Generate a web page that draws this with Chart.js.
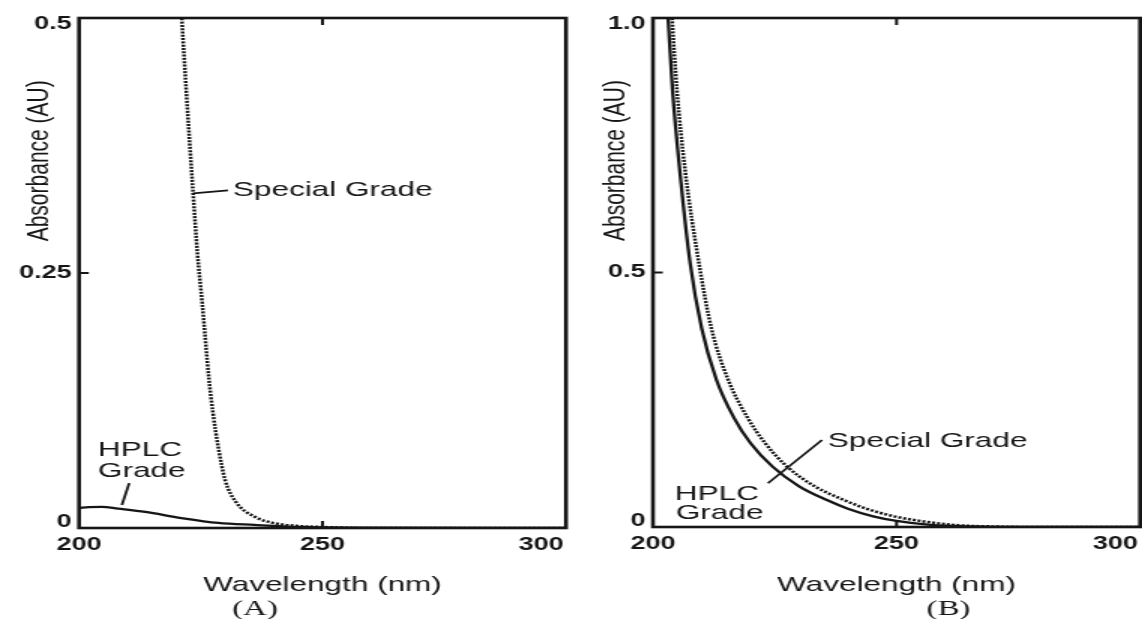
<!DOCTYPE html>
<html>
<head>
<meta charset="utf-8">
<title>Solvent UV absorbance</title>
<script src="https://cdn.jsdelivr.net/npm/chart.js@4.4.1/dist/chart.umd.min.js"></script>
<style>
  html, body { margin: 0; padding: 0; background: #fff; }
  body { width: 1142px; height: 619px; position: relative; overflow: hidden; }
  canvas { position: absolute; top: 0; }
</style>
</head>
<body>
<!-- drawn narrow and stretched 1.5x wide, like the printed figure -->
<canvas id="chartA" width="380" height="619" style="left:0px;width:570px;height:619px"></canvas>
<canvas id="chartB" width="380" height="619" style="left:572px;width:570px;height:619px"></canvas>
<script>
// Axis ticks
const WAVELENGTH_TICKS = [200, 250, 300];
const ABS_TICKS_A = [0, 0.25, 0.5];
const ABS_LABELS_A = ['0', '0.25', '0.5'];
const ABS_TICKS_B = [0, 0.5, 1.0];
const ABS_LABELS_B = ['0', '0.5', '1.0'];

// Panel A: absorbance (AU) against wavelength (nm)
const nmSpecialA = [220.0, 221.1, 222.0, 223.4, 224.3, 225.3, 226.7, 227.5, 228.6, 230.0, 232.3, 236.1, 239.8, 245, 250, 260, 300];
const auSpecialA = [0.60, 0.50, 0.43, 0.33, 0.27, 0.22, 0.145, 0.113, 0.079, 0.047, 0.025, 0.011, 0.005, 0.002, 0.001, 0, 0];
const nmHplcA = [200, 202, 204.7, 208, 213.6, 221, 228.6, 236, 245, 255, 300];
const auHplcA = [0.0196, 0.0205, 0.0208, 0.019, 0.0157, 0.0098, 0.005, 0.003, 0.001, 0.0003, 0];

// Panel B
const nmHplcB = [202.4, 203.1, 204.0, 205.5, 207.6, 210.0, 213.0, 216.6, 220.0, 224.6, 230.0, 235.7, 240.0, 245.2, 250.0, 257.0, 265.0, 275.0, 300];
const auHplcB = [1.11, 1.00, 0.86, 0.70, 0.52, 0.39, 0.29, 0.215, 0.165, 0.118, 0.080, 0.053, 0.036, 0.021, 0.012, 0.004, 0.001, 0, 0];
const nmSpecialB = [203.2, 203.9, 204.9, 206.6, 209.4, 212.0, 215.4, 219.4, 223.0, 227.6, 233.2, 239.2, 243.8, 249.5, 254.8, 262.0, 270.0, 280.0, 300];
const auSpecialB = [1.11, 1.00, 0.86, 0.70, 0.52, 0.39, 0.29, 0.215, 0.165, 0.118, 0.080, 0.053, 0.036, 0.021, 0.012, 0.004, 0.001, 0, 0];

const INK = '#161616';
const SANS = "'Liberation Sans', Arial, sans-serif";
const SERIF = "'Liberation Serif', 'Times New Roman', serif";
const Y_TITLE = 'Absorbance (AU)';
const X_TITLE = 'Wavelength (nm)';

function toPoints(xs, ys) {
    return xs.map((x, i) => ({ x: x, y: ys[i] }));
}

// Frame, inward ticks, axis title, callouts and panel letter
const plotDecor = {
    id: 'plotDecor',
    beforeDraw(chart) {
        const { x, y } = chart.scales;
        // last wavelength label sits inside the frame, end labels of y inside too
        const xi = x.getLabelItems();
        const lastX = xi[xi.length - 1];
        if (lastX && !lastX.nudged) { lastX.options.translation[0] -= 16.5; lastX.nudged = true; }
        const yi = y.getLabelItems();
        if (yi.length && !yi[0].nudged) {
            yi[0].options.translation[1] -= 6; yi[0].nudged = true;
            const top = yi[yi.length - 1];
            top.options.translation[1] += 6; top.nudged = true;
        }
    },
    afterDraw(chart, args, opts) {
        const { ctx, chartArea: a, scales: { x, y } } = chart;
        ctx.save();
        ctx.strokeStyle = INK;
        ctx.fillStyle = INK;

        ctx.lineWidth = 2.6;
        ctx.strokeRect(a.left, a.top, a.right - a.left, a.bottom - a.top);

        ctx.lineWidth = 2;
        ctx.beginPath();
        const xm = x.getPixelForValue(WAVELENGTH_TICKS[1]);
        ctx.moveTo(xm, a.top); ctx.lineTo(xm, a.top + 7);
        ctx.moveTo(xm, a.bottom); ctx.lineTo(xm, a.bottom - 7);
        const ym = y.getPixelForValue(opts.midTick);
        ctx.moveTo(a.left, ym); ctx.lineTo(a.left + 6.5, ym);
        ctx.stroke();

        // y axis title, rotated, toward the upper part of the axis
        ctx.font = '21px ' + SANS;
        ctx.textAlign = 'center';
        ctx.textBaseline = 'middle';
        ctx.save();
        ctx.translate(a.left - opts.titleGap, a.top + 0.28 * (a.bottom - a.top));
        ctx.rotate(-Math.PI / 2);
        ctx.fillText(Y_TITLE, 0, 0);
        ctx.restore();

        // callout lines
        ctx.lineWidth = 1.8;
        ctx.beginPath();
        opts.leaders.forEach(seg => {
            ctx.moveTo(x.getPixelForValue(seg[0][0]), y.getPixelForValue(seg[0][1]));
            ctx.lineTo(x.getPixelForValue(seg[1][0]), y.getPixelForValue(seg[1][1]));
        });
        ctx.stroke();

        ctx.textAlign = 'left';
        opts.notes.forEach(n => {
            ctx.fillText(n.text, x.getPixelForValue(n.x), y.getPixelForValue(n.y));
        });

        ctx.font = '22px ' + SERIF;
        ctx.textAlign = 'center';
        ctx.fillText(opts.letter, opts.letterX, 609);
        ctx.restore();
    }
};

function buildChart(id, p) {
    const tickFont = { family: SANS, size: 18, weight: 'bold' };
    return new Chart(document.getElementById(id), {
        type: 'line',
        data: {
            datasets: [
                {
                    label: 'HPLC Grade',
                    data: toPoints(p.nmHplc, p.auHplc),
                    borderColor: INK,
                    borderWidth: 2.3,
                    pointRadius: 0,
                    cubicInterpolationMode: 'monotone'
                },
                {
                    label: 'Special Grade',
                    data: toPoints(p.nmSpecial, p.auSpecial),
                    borderColor: INK,
                    borderWidth: 2.5,
                    borderDash: [2, 1.3],
                    pointRadius: 0,
                    cubicInterpolationMode: 'monotone'
                }
            ]
        },
        options: {
            responsive: false,
            animation: false,
            devicePixelRatio: 1,
            layout: { padding: { left: 0, top: 18, right: p.padRight, bottom: 0 } },
            plugins: {
                legend: { display: false },
                tooltip: { enabled: false },
                plotDecor: {
                    midTick: p.absTicks[1],
                    titleGap: p.titleGap,
                    leaders: p.leaders,
                    notes: p.notes,
                    letter: p.letter,
                    letterX: p.letterX
                }
            },
            scales: {
                x: {
                    type: 'linear',
                    min: WAVELENGTH_TICKS[0],
                    max: WAVELENGTH_TICKS[WAVELENGTH_TICKS.length - 1],
                    afterBuildTicks: s => { s.ticks = WAVELENGTH_TICKS.map(v => ({ value: v })); },
                    afterFit: s => { s.height = 619 - p.bottom; s.paddingLeft = 0; s.paddingRight = 0; },
                    grid: { display: false, drawTicks: false },
                    border: { display: false },
                    ticks: { color: INK, font: tickFont, padding: 6, maxRotation: 0, callback: v => String(v) },
                    title: { display: true, text: X_TITLE, color: INK, font: { family: SANS, size: 21 }, padding: { top: 0, bottom: 21 } }
                },
                y: {
                    type: 'linear',
                    min: p.absTicks[0],
                    max: p.absTicks[p.absTicks.length - 1],
                    afterBuildTicks: s => { s.ticks = p.absTicks.map(v => ({ value: v })); },
                    afterFit: s => { s.width = p.left; s.paddingTop = 0; s.paddingBottom = 0; },
                    grid: { display: false, drawTicks: false },
                    border: { display: false },
                    ticks: { color: INK, font: tickFont, padding: 5, callback: (v, i) => p.absLabels[i] },
                    title: { display: false }
                }
            }
        },
        plugins: [plotDecor]
    });
}

buildChart('chartA', {
    nmHplc: nmHplcA, auHplc: auHplcA,
    nmSpecial: nmSpecialA, auSpecial: auSpecialA,
    absTicks: ABS_TICKS_A, absLabels: ABS_LABELS_A,
    left: 52.7, padRight: 2.7, bottom: 528,
    titleGap: 26,
    letter: '(A)', letterX: 170,
    notes: [
        { text: 'Special Grade', x: 231.6, y: 0.331 },
        { text: 'HPLC', x: 203.9, y: 0.076 },
        { text: 'Grade', x: 203.9, y: 0.056 }
    ],
    leaders: [
        [[223.4, 0.328], [230.6, 0.331]],
        [[210.3, 0.044], [208.8, 0.0225]]
    ]
});

buildChart('chartB', {
    nmHplc: nmHplcB, auHplc: auHplcB,
    nmSpecial: nmSpecialB, auSpecial: auSpecialB,
    absTicks: ABS_TICKS_B, absLabels: ABS_LABELS_B,
    left: 54, padRight: 1.3, bottom: 527,
    titleGap: 24.5,
    letter: '(B)', letterX: 251,
    notes: [
        { text: 'Special Grade', x: 235.9, y: 0.169 },
        { text: 'HPLC', x: 204.5, y: 0.064 },
        { text: 'Grade', x: 204.7, y: 0.0275 }
    ],
    leaders: [
        [[234.7, 0.171], [223.6, 0.086]]
    ]
});
</script>
</body>
</html>
